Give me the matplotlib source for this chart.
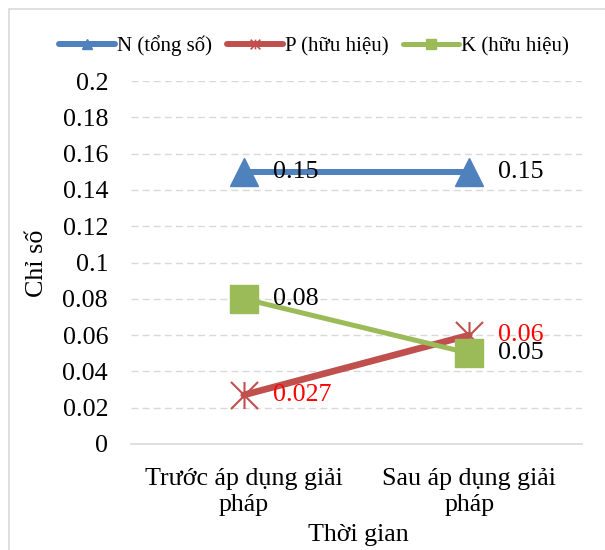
import matplotlib
matplotlib.use("Agg")
import matplotlib.pyplot as plt
from matplotlib.lines import Line2D
from matplotlib.patches import Rectangle
from matplotlib.path import Path

categories = ["Trước áp dụng giải\npháp", "Sau áp dụng giải\npháp"]
series_names = ["N (tổng số)", "P (hữu hiệu)", "K (hữu hiệu)"]
n_values = [0.15, 0.15]
p_values = [0.027, 0.06]
k_values = [0.08, 0.05]
n_labels = ["0.15", "0.15"]
p_labels = ["0.027", "0.06"]
k_labels = ["0.08", "0.05"]
y_ticks = [0, 0.02, 0.04, 0.06, 0.08, 0.1, 0.12, 0.14, 0.16, 0.18, 0.2]
y_tick_labels = ["0", "0.02", "0.04", "0.06", "0.08", "0.1", "0.12", "0.14", "0.16", "0.18", "0.2"]
x_title = "Thời gian"
y_title = "Chỉ số"

plt.rcParams['font.family'] = ['Liberation Serif', 'DejaVu Serif']

W, H = 605, 550
fig = plt.figure(figsize=(W / 100, H / 100), dpi=100)
fig.patch.set_facecolor("white")

# chart border
fig.patches.append(Rectangle((9 / W, -0.1), 1.2, 1.1 - 9 / H, transform=fig.transFigure,
                             fill=False, edgecolor="#D9D9D9", linewidth=1.2, zorder=0))

ax = fig.add_axes([131 / W, 1 - 444 / H, (582 - 131) / W, (444 - 81) / H])
x = list(range(len(categories)))

star = Path([(0, -1), (0, 1), (-1, -1), (1, 1), (-1, 1), (1, -1)],
            [Path.MOVETO, Path.LINETO, Path.MOVETO, Path.LINETO, Path.MOVETO, Path.LINETO])

blue, red, green = "#4F81BD", "#C0504D", "#9BBB59"

ax.plot(x, n_values, color=blue, lw=4.3, marker="^", markersize=19.5,
        solid_capstyle="round", zorder=3)
ax.plot(x, p_values, color=red, lw=4.8, marker=star, markersize=19.5,
        markeredgewidth=1.5, markeredgecolor=red, solid_capstyle="round", zorder=4)
ax.plot(x, k_values, color=green, lw=3.6, marker="s", markersize=20,
        solid_capstyle="round", zorder=5)

fs = 18.7
for vals, labs, col in [(n_values, n_labels, "black"), (p_values, p_labels, "#FF0000"),
                        (k_values, k_labels, "black")]:
    for xi, v, lab in zip(x, vals, labs):
        ax.annotate(lab, (xi, v), xytext=(21, 0), textcoords="offset points",
                    ha="left", va="center", fontsize=fs, color=col, zorder=6)

ax.set_xlim(-0.5, len(categories) - 0.5)
ax.set_ylim(0, 0.2)
ax.set_yticks(y_ticks)
ax.set_yticklabels(y_tick_labels)
ax.set_xticks(x)
ax.set_xticklabels(categories, linespacing=1.23)
ax.tick_params(axis="y", length=0, pad=16.5, labelsize=fs)
ax.tick_params(axis="x", length=0, pad=17.5, labelsize=fs)

for s in ["top", "right", "left"]:
    ax.spines[s].set_visible(False)
ax.spines["bottom"].set_color("#D9D9D9")
ax.spines["bottom"].set_linewidth(1.2)

for yt in y_ticks[1:]:
    ax.axhline(yt, color="#D9D9D9", lw=1.0, dashes=(5, 3), zorder=1)

fig.text(358 / W, 1 - 535 / H, x_title, ha="center", va="center", fontsize=fs)
fig.text(37 / W, 1 - 263 / H, y_title, ha="center", va="center", rotation=90, fontsize=fs)

handles = [
    Line2D([], [], color=blue, lw=4.3, marker="^", markersize=7, solid_capstyle="round"),
    Line2D([], [], color=red, lw=4.3, marker=star, markersize=7, markeredgewidth=1.2,
           markeredgecolor=red, solid_capstyle="round"),
    Line2D([], [], color=green, lw=3.6, marker="s", markersize=7, solid_capstyle="round"),
]
fig.legend(handles, series_names, loc="center", bbox_to_anchor=(314 / W, 1 - 46 / H),
           ncol=3, frameon=False, fontsize=15, handlelength=2.7, handletextpad=0.1,
           columnspacing=0.7, borderaxespad=0, borderpad=0)

fig.savefig("out.png", dpi=100)
